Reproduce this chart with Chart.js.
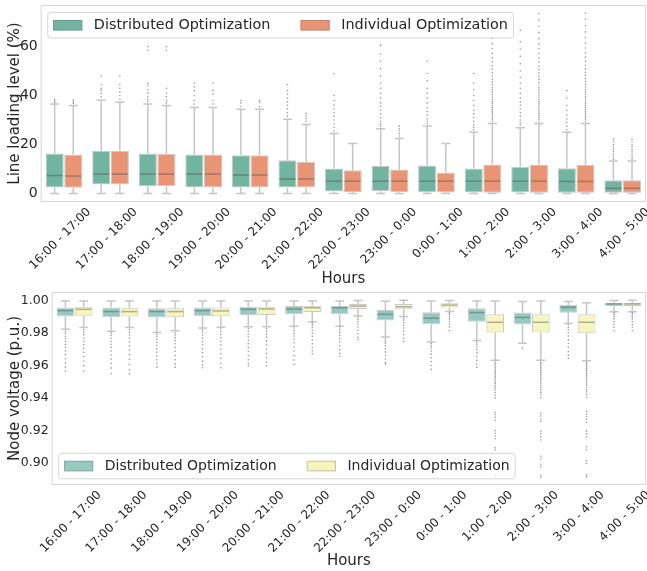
<!DOCTYPE html>
<html>
<head>
<meta charset="utf-8">
<script src="https://cdn.jsdelivr.net/npm/chart.js@4.4.1/dist/chart.umd.min.js"></script>
<style>
  html, body { margin: 0; padding: 0; background: #ffffff; }
  #wrap { position: relative; width: 647px; height: 571px; overflow: hidden; }
  .panel { position: absolute; left: 0; width: 647px; }
</style>
</head>
<body>
<div id="wrap">
  <div class="panel" style="top:0px;height:288px"><canvas id="loadChart"></canvas></div>
  <div class="panel" style="top:286px;height:285px"><canvas id="voltChart"></canvas></div>
</div>
<script>
// ---- categories and series ----
const hours = ['16:00 - 17:00', '17:00 - 18:00', '18:00 - 19:00', '19:00 - 20:00', '20:00 - 21:00',
  '21:00 - 22:00', '22:00 - 23:00', '23:00 - 0:00', '0:00 - 1:00', '1:00 - 2:00',
  '2:00 - 3:00', '3:00 - 4:00', '4:00 - 5:00'];
const seriesNames = ['Distributed Optimization', 'Individual Optimization'];

// ---- tick labels ----
const loadTicks = [0, 20, 40, 60];
const voltTicks = [0.90, 0.92, 0.94, 0.96, 0.98, 1.00];

// ---- line loading level (%) box statistics ----
const loadDistLo  = [0, 0, 0, 0, 0, 0, 0, 0, 0, 0, 0, 0, 0];
const loadDistQ1  = [2.4, 3.7, 2.9, 2.4, 2.4, 2.4, 0.8, 1.0, 0.5, 0.4, 0.4, 0.3, 0.3];
const loadDistMed = [7.3, 7.9, 7.9, 7.9, 7.5, 5.9, 5.0, 5.0, 5.0, 5.0, 5.0, 4.9, 2.1];
const loadDistQ3  = [16.3, 17.4, 16.3, 15.9, 15.6, 13.6, 10.2, 11.3, 11.4, 10.2, 10.9, 10.3, 5.4];
const loadDistHi  = [36.5, 38.1, 36.5, 35.1, 34.4, 30.3, 24.5, 26.4, 27.6, 25.0, 26.8, 25.0, 13.3];
const loadDistOut = [
  [37.2, 37.8, 38.5],
  [39.5, 41.0, 42.2, 43.0, 44.5, 48.0],
  [37.5, 38.5, 39.5, 41.0, 42.5, 44.0, 45.0, 58.5, 60.0],
  [36.5, 38.0, 40.0, 42.0, 43.5, 45.0],
  [35.5, 37.0, 38.0],
  [31.5, 33.0, 34.5, 36.0, 37.5, 39.0, 40.5, 42.0, 44.5],
  [25.5, 27.0, 28.5, 30.0, 31.5, 33.0, 34.5, 36.0, 38.0, 40.0, 49.0],
  [27.5, 28.5, 29.5, 31.0, 32.5, 34.0, 35.5, 37.0, 39.0, 41.0, 43.0, 45.0, 48.0, 51.0, 54.0, 57.0, 60.5],
  [28.5, 29.5, 30.5, 32.0, 33.5, 35.0, 37.0, 39.0, 41.0, 43.0, 46.0, 49.0, 54.0],
  [26.0, 27.0, 28.0, 29.5, 31.0, 32.5, 34.0, 36.0, 38.0, 40.0, 42.5, 45.0, 49.0],
  [28.0, 29.0, 30.0, 31.5, 33.0, 34.5, 36.0, 37.5, 39.0, 41.0, 43.0, 45.0, 47.5, 50.0, 53.0, 56.0, 59.0, 62.0, 66.7],
  [26.0, 27.5, 29.0, 30.5, 32.0, 34.0, 36.0, 39.0, 42.0],
  [14.0, 15.0, 16.0, 17.0, 18.0, 19.0, 20.0, 21.0, 22.2]
];
const loadIndLo  = [0, 0, 0, 0, 0, 0, 0, 0, 0, 0, 0, 0, 0];
const loadIndQ1  = [2.3, 3.7, 2.9, 2.4, 2.4, 2.4, 0.6, 0.5, 0.4, 0.3, 0.3, 0.3, 0.3];
const loadIndMed = [7.1, 7.9, 7.9, 7.9, 7.5, 5.9, 5.0, 5.0, 5.0, 5.0, 5.0, 4.9, 2.1];
const loadIndQ3  = [15.9, 17.4, 16.2, 15.9, 15.6, 12.9, 9.5, 9.8, 8.6, 11.8, 11.8, 11.7, 5.4];
const loadIndHi  = [35.9, 37.3, 35.9, 35.1, 34.4, 28.2, 20.4, 22.4, 20.4, 28.6, 28.6, 28.6, 13.3];
const loadIndOut = [
  [36.8, 37.5, 38.2],
  [38.5, 40.0, 41.5, 43.0, 44.5, 48.0],
  [37.0, 38.0, 39.5, 41.0, 43.0, 58.5, 60.0],
  [36.5, 38.0, 40.5, 42.0, 45.0],
  [35.5, 37.2, 38.0],
  [29.5, 30.5, 31.5, 32.7],
  [],
  [23.5, 24.5, 25.5, 26.5, 27.6],
  [],
  [29.5, 30.3, 31.1, 31.9, 32.7, 33.5, 34.3, 35.1, 35.9, 36.7, 37.6, 38.5, 39.4, 40.3, 41.3, 42.3, 43.3,
   44.4, 45.5, 46.7, 48.0, 49.3, 50.7, 52.2, 53.8, 55.5, 57.3, 59.2, 61.2, 63.4, 65.8, 68.5, 71.0, 73.2],
  [29.4, 30.2, 31.0, 31.8, 32.6, 33.4, 34.2, 35.0, 35.8, 36.6, 37.5, 38.4, 39.3, 40.2, 41.2, 42.2, 43.2,
   44.3, 45.4, 46.6, 47.9, 49.2, 50.6, 52.1, 53.7, 55.4, 57.2, 59.1, 61.1, 63.3, 65.7, 68.3, 70.8, 73.4],
  [29.5, 30.3, 31.1, 31.9, 32.7, 33.5, 34.3, 35.1, 35.9, 36.8, 37.7, 38.6, 39.5, 40.5, 41.5, 42.5, 43.5,
   44.6, 45.7, 46.9, 48.2, 49.5, 50.9, 52.4, 54.0, 55.7, 57.5, 59.4, 61.4, 63.6, 66.0, 68.6, 71.2, 73.6],
  [14.0, 15.0, 16.0, 17.0, 18.0, 19.0, 20.0, 21.0, 22.2]
];

// ---- node voltage (p.u.) box statistics ----
const voltDistLo  = [0.9824, 0.9812, 0.9804, 0.9831, 0.9839, 0.9843, 0.9843, 0.9776, 0.9745, 0.9755, 0.9737, 0.9860, 0.9932];
const voltDistQ1  = [0.9902, 0.9898, 0.9896, 0.9904, 0.9912, 0.9916, 0.9916, 0.9878, 0.9855, 0.9871, 0.9854, 0.9926, 0.9967];
const voltDistMed = [0.9939, 0.9933, 0.9933, 0.9939, 0.9947, 0.9949, 0.9957, 0.9916, 0.9892, 0.9927, 0.9897, 0.9959, 0.9981];
const voltDistQ3  = [0.9959, 0.9959, 0.9953, 0.9959, 0.9963, 0.9967, 0.9969, 0.9943, 0.9929, 0.9953, 0.9928, 0.9973, 0.9988];
const voltDistHi  = [0.9998, 0.9998, 0.9998, 0.9998, 0.9998, 0.9998, 0.9998, 0.9997, 0.9998, 0.9998, 0.9996, 0.9996, 1.0002];
const voltDistOut = [
  [0.9812, 0.9798, 0.9781, 0.9765, 0.9748, 0.9730, 0.9712, 0.9690, 0.9668, 0.9642, 0.9615, 0.9590, 0.9565],
  [0.9800, 0.9785, 0.9768, 0.9750, 0.9731, 0.9712, 0.9690, 0.9665, 0.9640, 0.9612, 0.9585, 0.9549],
  [0.9792, 0.9778, 0.9761, 0.9744, 0.9725, 0.9704, 0.9682, 0.9660, 0.9636, 0.9612, 0.9590],
  [0.9820, 0.9805, 0.9788, 0.9770, 0.9750, 0.9728, 0.9705, 0.9680, 0.9655, 0.9628, 0.9603, 0.9586],
  [0.9828, 0.9812, 0.9795, 0.9776, 0.9756, 0.9735, 0.9712, 0.9688, 0.9662, 0.9636, 0.9612, 0.9598],
  [0.9832, 0.9816, 0.9800, 0.9782, 0.9762, 0.9740, 0.9716, 0.9690, 0.9662, 0.9634, 0.9606],
  [0.9832, 0.9818, 0.9802, 0.9785, 0.9766, 0.9745, 0.9722, 0.9698, 0.9676, 0.9657],
  [0.9765, 0.9752, 0.9738, 0.9722, 0.9704, 0.9684, 0.9662, 0.9640, 0.9618, 0.9610],
  [0.9735, 0.9722, 0.9708, 0.9690, 0.9670, 0.9648, 0.9625, 0.9600, 0.9576],
  [0.9745, 0.9732, 0.9716, 0.9698, 0.9678, 0.9656, 0.9632, 0.9608, 0.9590],
  [0.9706],
  [0.9850, 0.9836, 0.9820, 0.9802, 0.9782, 0.9760, 0.9736, 0.9712, 0.9688, 0.9664, 0.9644],
  [0.9925, 0.9915, 0.9902, 0.9888, 0.9872, 0.9855, 0.9836, 0.9815]
];
const voltIndLo  = [0.9835, 0.9835, 0.9814, 0.9837, 0.9839, 0.9871, 0.9908, 0.9902, 0.9933, 0.9633, 0.9633, 0.9630, 0.9932];
const voltIndQ1  = [0.9908, 0.9902, 0.9898, 0.9904, 0.9912, 0.9931, 0.9949, 0.9947, 0.9959, 0.9804, 0.9804, 0.9799, 0.9967];
const voltIndMed = [0.9947, 0.9933, 0.9933, 0.9937, 0.9949, 0.9957, 0.9967, 0.9963, 0.9973, 0.9867, 0.9867, 0.9867, 0.9980];
const voltIndQ3  = [0.9963, 0.9957, 0.9953, 0.9959, 0.9963, 0.9969, 0.9980, 0.9980, 0.9984, 0.9916, 0.9916, 0.9916, 0.9988];
const voltIndHi  = [0.9999, 0.9999, 0.9999, 0.9999, 0.9999, 0.9999, 1.0001, 1.0003, 1.0001, 0.9998, 0.9998, 0.9988, 1.0003];
const voltIndOut = [
  [0.9822, 0.9806, 0.9789, 0.9770, 0.9750, 0.9729, 0.9706, 0.9682, 0.9656, 0.9628, 0.9598, 0.9565],
  [0.9822, 0.9806, 0.9788, 0.9768, 0.9746, 0.9722, 0.9696, 0.9668, 0.9638, 0.9606, 0.9575, 0.9549],
  [0.9802, 0.9788, 0.9772, 0.9754, 0.9734, 0.9712, 0.9688, 0.9662, 0.9635, 0.9610, 0.9590],
  [0.9825, 0.9810, 0.9792, 0.9772, 0.9750, 0.9726, 0.9700, 0.9672, 0.9644, 0.9614, 0.9586],
  [0.9828, 0.9812, 0.9794, 0.9774, 0.9752, 0.9728, 0.9702, 0.9675, 0.9648, 0.9620, 0.9598],
  [0.9860, 0.9848, 0.9834, 0.9818, 0.9800, 0.9780, 0.9758, 0.9734, 0.9710, 0.9690, 0.9673],
  [0.9898, 0.9886, 0.9872, 0.9856, 0.9838, 0.9818, 0.9796, 0.9774, 0.9759],
  [0.9892, 0.9880, 0.9866, 0.9850, 0.9832, 0.9812, 0.9790, 0.9768, 0.9749],
  [0.9925, 0.9915, 0.9902, 0.9888, 0.9872, 0.9856, 0.9838, 0.9816],
  [0.9622, 0.9611, 0.9600, 0.9589, 0.9578, 0.9567, 0.9556, 0.9545, 0.9534, 0.9523, 0.9512, 0.9500, 0.9488,
   0.9475, 0.9462, 0.9448, 0.9433, 0.9418, 0.9400, 0.9310, 0.9296, 0.9280, 0.9262, 0.9198, 0.9182, 0.9165,
   0.9148, 0.9092, 0.9078, 0.9012, 0.8990, 0.8925, 0.8915],
  [0.9622, 0.9612, 0.9601, 0.9590, 0.9579, 0.9568, 0.9557, 0.9546, 0.9535, 0.9524, 0.9513, 0.9501, 0.9489,
   0.9476, 0.9463, 0.9449, 0.9434, 0.9419, 0.9402, 0.9305, 0.9288, 0.9270, 0.9255, 0.9195, 0.9178, 0.9160,
   0.9140, 0.9040, 0.9022, 0.8990, 0.8975, 0.8920, 0.8908],
  [0.9620, 0.9611, 0.9602, 0.9592, 0.9582, 0.9572, 0.9562, 0.9551, 0.9540, 0.9528, 0.9516, 0.9504, 0.9492,
   0.9479, 0.9466, 0.9452, 0.9437, 0.9421, 0.9404, 0.9318, 0.9300, 0.9285, 0.9268, 0.9250, 0.9196, 0.9178,
   0.9158, 0.9098, 0.9080, 0.9012, 0.8995, 0.8925, 0.8912],
  [0.9925, 0.9915, 0.9902, 0.9888, 0.9872, 0.9855, 0.9836, 0.9815]
];

// ---- styling ----
const FONT = 'DejaVu Sans';
const TEXT = '#262626';
const WHISKER = 'rgba(150,150,150,0.55)';
const MEDIAN = 'rgba(70,70,70,0.40)';
const FLIER = 'rgba(80,80,80,0.6)';
const EDGE = 'rgba(120,120,120,0.40)';
const SPINE = '#d6d6d6';

function boxDataset(label, color, q1, med, q3, lo, hi, out) {
  return {
    label: label,
    backgroundColor: color,
    borderColor: EDGE,
    borderWidth: 1,
    borderSkipped: false,
    categoryPercentage: 0.8,
    barPercentage: 0.97,
    data: q1.map((v, i) => [v, q3[i]]),
    median: med,
    whiskerLo: lo,
    whiskerHi: hi,
    outliers: out
  };
}

// Whiskers, caps, medians, fliers, frame and legend drawn on the chart's own scales.
const boxParts = {
  id: 'boxParts',
  beforeDatasetsDraw(chart) {
    const ctx = chart.ctx, y = chart.scales.y;
    ctx.save();
    ctx.strokeStyle = WHISKER;
    ctx.lineWidth = 1.5;
    chart.data.datasets.forEach((ds, d) => {
      chart.getDatasetMeta(d).data.forEach((bar, i) => {
        const p = bar.getProps(['x', 'width'], true);
        const cw = p.width / 4;
        const yq1 = y.getPixelForValue(ds.data[i][0]);
        const yq3 = y.getPixelForValue(ds.data[i][1]);
        const ylo = y.getPixelForValue(ds.whiskerLo[i]);
        const yhi = y.getPixelForValue(ds.whiskerHi[i]);
        ctx.beginPath();
        ctx.moveTo(p.x, yq1); ctx.lineTo(p.x, ylo);
        ctx.moveTo(p.x, yq3); ctx.lineTo(p.x, yhi);
        ctx.moveTo(p.x - cw, ylo); ctx.lineTo(p.x + cw, ylo);
        ctx.moveTo(p.x - cw, yhi); ctx.lineTo(p.x + cw, yhi);
        ctx.stroke();
      });
    });
    ctx.restore();
  },
  afterDatasetsDraw(chart) {
    const ctx = chart.ctx, y = chart.scales.y, a = chart.chartArea;
    ctx.save();
    chart.data.datasets.forEach((ds, d) => {
      chart.getDatasetMeta(d).data.forEach((bar, i) => {
        const p = bar.getProps(['x', 'width'], true);
        const ym = y.getPixelForValue(ds.median[i]);
        ctx.strokeStyle = MEDIAN;
        ctx.lineWidth = 1.5;
        ctx.beginPath();
        ctx.moveTo(p.x - p.width / 2 + 1, ym);
        ctx.lineTo(p.x + p.width / 2 - 1, ym);
        ctx.stroke();
        ctx.fillStyle = FLIER;
        ds.outliers[i].forEach(v => {
          const yy = y.getPixelForValue(v);
          ctx.beginPath();
          ctx.arc(p.x, yy, 0.8, 0, Math.PI * 2);
          ctx.fill();
        });
      });
    });
    // plot frame
    ctx.strokeStyle = SPINE;
    ctx.lineWidth = 1;
    ctx.strokeRect(a.left + 0.5, a.top + 0.5, a.right - a.left - 1, a.bottom - a.top - 1);
    ctx.restore();
  },
  afterDraw(chart, args, opts) {
    const ctx = chart.ctx, a = chart.chartArea;
    const fs = opts.fontSize;
    ctx.save();
    ctx.font = fs + 'px "' + FONT + '"';
    const ds = chart.data.datasets;
    const widths = ds.map(s => ctx.measureText(s.label).width);
    const patchW = 29.3, patchH = 10.6, padL = 5.8, gap = 11.5, colGap = 30, padR = 5, frameH = 25.5;
    const frameW = padL + ds.length * (patchW + gap) + widths.reduce((s, w) => s + w, 0) + colGap * (ds.length - 1) + padR;
    const fx = a.left + 6.5;
    const fy = opts.where === 'top' ? a.top + 7 : a.bottom - 6.7 - frameH;
    ctx.beginPath();
    ctx.roundRect(fx + 0.5, fy + 0.5, frameW, frameH, 3);
    ctx.fillStyle = 'rgba(255,255,255,0.8)';
    ctx.fill();
    ctx.strokeStyle = 'rgba(204,204,204,0.8)';
    ctx.lineWidth = 1;
    ctx.stroke();
    let x = fx + padL;
    const cy = fy + frameH / 2 + 0.5;
    ds.forEach((s, k) => {
      ctx.fillStyle = s.backgroundColor;
      ctx.fillRect(x, cy - patchH / 2, patchW, patchH);
      ctx.strokeStyle = EDGE;
      ctx.strokeRect(x + 0.5, cy - patchH / 2 + 0.5, patchW - 1, patchH - 1);
      x += patchW + gap;
      ctx.fillStyle = TEXT;
      ctx.textBaseline = 'middle';
      ctx.textAlign = 'left';
      ctx.fillText(s.label, x, cy + 0.5);
      x += widths[k] + colGap;
    });
    ctx.restore();
  }
};

function makeChart(id, cfg) {
  return new Chart(document.getElementById(id), {
    type: 'bar',
    data: { labels: hours, datasets: cfg.datasets },
    plugins: [boxParts],
    options: {
      responsive: true,
      maintainAspectRatio: false,
      animation: false,
      events: [],
      layout: { padding: { top: cfg.padTop, right: 1, left: 0, bottom: 0 } },
      plugins: {
        legend: { display: false },
        tooltip: { enabled: false },
        boxParts: { where: cfg.legendWhere, fontSize: cfg.legendFont }
      },
      scales: {
        x: {
          type: 'category',
          offset: true,
          grid: { display: false, drawTicks: false },
          border: { display: false },
          ticks: {
            autoSkip: false, minRotation: 45, maxRotation: 45,
            labelOffset: 25, padding: 3,
            color: TEXT, font: { family: FONT, size: 12 }
          },
          title: {
            display: true, text: 'Hours', color: TEXT,
            font: { family: FONT, size: 15 }, padding: { top: 0, bottom: cfg.hoursPad }
          },
          afterFit(s) { s.height = cfg.xHeight; s.paddingLeft = 0; s.paddingRight = 0; }
        },
        y: {
          min: cfg.yMin, max: cfg.yMax,
          afterBuildTicks(s) { s.ticks = cfg.ticks.map(v => ({ value: v })); },
          grid: { display: false, drawTicks: false },
          border: { display: false },
          ticks: {
            padding: 3, color: TEXT,
            font: { family: FONT, size: cfg.yTickFont },
            callback: cfg.fmt
          },
          title: {
            display: true, text: cfg.yTitle, color: TEXT,
            font: { family: FONT, size: 15 }, padding: { top: 6, bottom: 0 }
          },
          afterFit(s) { s.width = cfg.yWidth; s.paddingTop = 0; s.paddingBottom = 0; }
        }
      }
    }
  });
}

makeChart('loadChart', {
  datasets: [
    boxDataset(seriesNames[0], '#71b49f', loadDistQ1, loadDistMed, loadDistQ3, loadDistLo, loadDistHi, loadDistOut),
    boxDataset(seriesNames[1], '#e99575', loadIndQ1, loadIndMed, loadIndQ3, loadIndLo, loadIndHi, loadIndOut)
  ],
  ticks: loadTicks, yMin: -3.5, yMax: 77,
  fmt: v => String(v),
  yTitle: 'Line loading level (%)', yWidth: 40.7, yTickFont: 14,
  padTop: 5, xHeight: 86, hoursPad: 0,
  legendWhere: 'top', legendFont: 14.4
});

makeChart('voltChart', {
  datasets: [
    boxDataset(seriesNames[0], '#96cac1', voltDistQ1, voltDistMed, voltDistQ3, voltDistLo, voltDistHi, voltDistOut),
    boxDataset(seriesNames[1], '#f6f5bd', voltIndQ1, voltIndMed, voltIndQ3, voltIndLo, voltIndHi, voltIndOut)
  ],
  ticks: voltTicks, yMin: 0.8862, yMax: 1.0054,
  fmt: v => Number(v).toFixed(2),
  yTitle: 'Node voltage (p.u.)', yWidth: 51.7, yTickFont: 12.5,
  padTop: 6, xHeight: 86, hoursPad: 1,
  legendWhere: 'bottom', legendFont: 14
});
</script>
</body>
</html>
